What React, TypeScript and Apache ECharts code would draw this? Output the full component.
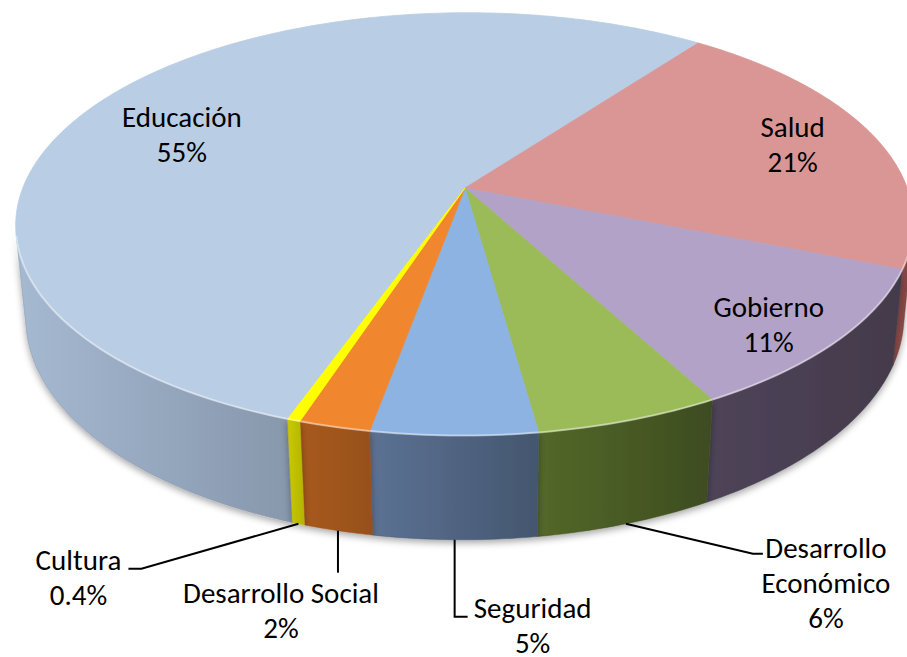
import React, { useEffect, useRef } from "react";
import * as echarts from "echarts";

// ---- data ----
const categories = ["Educación", "Salud", "Gobierno", "Desarrollo Económico", "Seguridad", "Desarrollo Social", "Cultura"];
const labelTexts = ["Educación", "Salud", "Gobierno", "Desarrollo\nEconómico", "Seguridad", "Desarrollo Social", "Cultura"];
const values = [55, 21, 11, 5.7, 5.1, 2.2, 0.4];

// ---- styles ----
const topColors = ["#B9CDE5", "#D99694", "#B3A2C7", "#9BBB59", "#8DB3E2", "#F0862E", "#FFFF00"];
const sideLight = ["#A5B9D1", "#94504C", "#4E4458", "#536829", "#5C7294", "#A85A1F", "#C9C900"];
const sideDark = ["#8797AC", "#7E4340", "#433A4B", "#3E4C20", "#44566F", "#97501A", "#B4B400"];

// ---- 3D projection layout ----
const PITCH = (27.7 * Math.PI) / 180;
const YAW = (-3.3 * Math.PI) / 180;
const DIST = 5.17;
const CAM_X = 0.3;
const FOCAL = 2290;
const THICK = 0.24;
const START_DEG = 196;
const APEX = [465, 188];

// ---- label layout ----
const insideLabel = [true, true, true, false, false, false, false];
const insideR = [0.74, 0.81, 0.79, 0, 0, 0, 0];
const insideOffset = [[-11, 14], [-5, 0], [18, 18], null, null, null, null];
const leaderElbow: (number[] | null)[] = [null, null, null, [127, 30], [0, 77], [0, 42], [-157, 45]];
const leaderEnd: (number[] | null)[] = [null, null, null, [137, 30], [13, 77], [0, 42], [-170, 45]];
const textOffset: (number[] | null)[] = [null, null, null, [200, 59], [78, 86], [-57, 80], [-220, 54]];

const FONT = "Carlito, Lato, 'Open Sans', sans-serif";
const FONT_SIZE = 29;
const LINE_H = 35;

const total = values.reduce((a, b) => a + b, 0);
const cum: number[] = [];
values.reduce((acc, v, i) => {
  cum[i] = acc;
  return acc + v;
}, 0);

function fmtPct(v: number) {
  return (v < 1 ? v.toFixed(1) : String(Math.round(v))) + "%";
}

function rawProj(X: number, Y: number, Z: number) {
  const s = Math.sin(PITCH), c = Math.cos(PITCH);
  const sg = Math.sin(YAW), cg = Math.cos(YAW);
  const ey = DIST * s, ez = -DIST * c;
  const dx = X - CAM_X, dy = Y - ey, dz = Z - ez;
  const xp = dx * cg - dz * sg;
  const yp = dx * s * sg + dy * c + dz * s * cg;
  const zp = dx * c * sg - dy * s + dz * c * cg;
  return [(FOCAL * xp) / zp, (-FOCAL * yp) / zp];
}
const C0 = rawProj(0, 0, 0);
function proj(deg: number, Y: number, r = 1) {
  const t = (deg * Math.PI) / 180;
  const p = rawProj(r * Math.sin(t), Y, r * Math.cos(t));
  return [APEX[0] + p[0] - C0[0], APEX[1] + p[1] - C0[1]];
}
// visible outer wall: CAM_X*sin(t) - D*cos(pitch)*cos(t) > 1
const VA = CAM_X, VB = -DIST * Math.cos(PITCH);
const VR = Math.hypot(VA, VB);
const VPHI = (Math.atan2(VA, VB) * 180) / Math.PI;
const VDELTA = (Math.acos(1 / VR) * 180) / Math.PI;
const VIS_LO = VPHI - VDELTA, VIS_HI = VPHI + VDELTA;

function sliceAngles(i: number, v: number) {
  const a1 = START_DEG + (cum[i] * 360) / total;
  const a2 = a1 + (v * 360) / total;
  return [a1, a2];
}

function visibleRanges(a1: number, a2: number) {
  const out: number[][] = [];
  for (const off of [0, 360]) {
    const lo = Math.max(a1, VIS_LO + off), hi = Math.min(a2, VIS_HI + off);
    if (hi > lo) out.push([lo, hi]);
  }
  return out;
}

function arcPts(lo: number, hi: number, Y: number) {
  const n = Math.max(2, Math.ceil((hi - lo) / 1));
  const pts: number[][] = [];
  for (let k = 0; k <= n; k++) pts.push(proj(lo + ((hi - lo) * k) / n, Y));
  return pts;
}

const seriesData = values.map((v, i) => ({ name: categories[i], value: [i, v] }));

function textLines(txt: string, cx: number, cy: number) {
  const lines = txt.split("\n");
  return lines.map((line, k) => ({
    type: "text",
    x: cx,
    y: cy + (k - (lines.length - 1) / 2) * LINE_H,
    style: {
      text: line,
      align: "center",
      verticalAlign: "middle",
      fontFamily: FONT,
      fontSize: FONT_SIZE,
      lineHeight: FONT_SIZE,
      fill: "#000000",
    },
  }));
}

export default function App() {
  const ref = useRef<HTMLDivElement>(null);
  useEffect(() => {
    document.body.style.margin = "0";
    const chart = echarts.init(ref.current!, undefined, { renderer: "svg" });
    const option: any = {
      animation: false,
      backgroundColor: "#ffffff",
      series: [
        {
          type: "custom",
          coordinateSystem: "none",
          z: 1,
          data: seriesData,
          renderItem: (params: any, api: any) => {
            const i = params.dataIndex;
            const [a1, a2] = sliceAngles(i, api.value(1));
            const children: any[] = [];
            for (const [lo, hi] of visibleRanges(a1, a2)) {
              const pts = arcPts(lo, hi, 0).concat(arcPts(lo, hi, -THICK).reverse());
              children.push({
                type: "polygon",
                shape: { points: pts },
                style: {
                  fill: new echarts.graphic.LinearGradient(0, 0, 1, 0, [
                    { offset: 0, color: sideLight[i] },
                    { offset: 1, color: sideDark[i] },
                  ]),
                  stroke: sideDark[i],
                  lineWidth: 0.5,
                  shadowBlur: 7,
                  shadowColor: "rgba(0,0,0,0.35)",
                  shadowOffsetY: 3,
                },
              });
            }
            return { type: "group", children };
          },
        },
        {
          type: "custom",
          coordinateSystem: "none",
          z: 2,
          data: seriesData,
          renderItem: (params: any, api: any) => {
            const i = params.dataIndex;
            const [a1, a2] = sliceAngles(i, api.value(1));
            const pts = [proj(0, 0, 0)].concat(arcPts(a1, a2, 0));
            const children: any[] = [
              {
                type: "polygon",
                shape: { points: pts },
                style: { fill: topColors[i], stroke: topColors[i], lineWidth: 0.8 },
              },
            ];
            for (const [lo, hi] of visibleRanges(a1, a2)) {
              children.push({
                type: "polyline",
                shape: { points: arcPts(lo, hi, 0) },
                style: { stroke: "rgba(255,255,255,0.45)", lineWidth: 2, fill: null },
              });
            }
            return { type: "group", children };
          },
        },
        {
          type: "custom",
          coordinateSystem: "none",
          z: 3,
          data: seriesData,
          renderItem: (params: any, api: any) => {
            const i = params.dataIndex;
            const v = api.value(1);
            const [a1, a2] = sliceAngles(i, v);
            const mid = (a1 + a2) / 2;
            const txt = labelTexts[i] + "\n" + fmtPct(v);
            const children: any[] = [];
            if (insideLabel[i]) {
              const p = proj(mid, 0, insideR[i]);
              const o = insideOffset[i]!;
              children.push(...textLines(txt, p[0] + o[0], p[1] + o[1]));
            } else {
              const an = proj(mid, -THICK);
              const el = leaderElbow[i]!, en = leaderEnd[i]!, to = textOffset[i]!;
              children.push({
                type: "polyline",
                shape: {
                  points: [an, [an[0] + el[0], an[1] + el[1]], [an[0] + en[0], an[1] + en[1]]],
                },
                style: { stroke: "#000000", lineWidth: 2, fill: null },
              });
              children.push(...textLines(txt, an[0] + to[0], an[1] + to[1]));
            }
            return { type: "group", children };
          },
        },
      ],
    };
    chart.setOption(option);
    return () => chart.dispose();
  }, []);
  return <div ref={ref} style={{ width: 907, height: 657 }} />;
}
